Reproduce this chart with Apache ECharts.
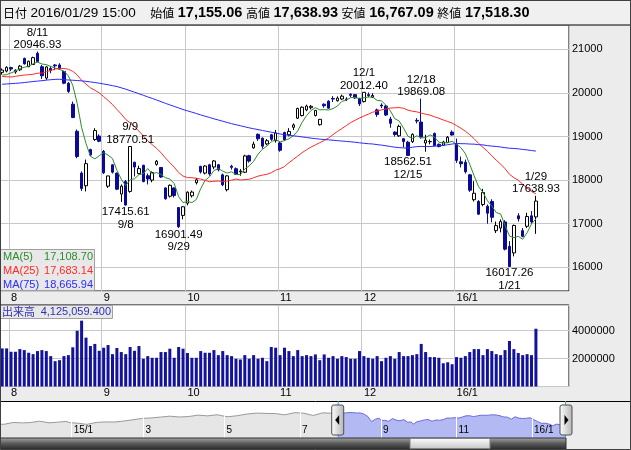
<!DOCTYPE html>
<html><head><meta charset="utf-8">
<script src="https://cdn.jsdelivr.net/npm/echarts@6/dist/echarts.min.js"></script>
<style>html,body{margin:0;padding:0;background:#ececec}#c{width:631px;height:450px}</style>
</head><body><div id="c"></div>
<script>
const dates = [
'2015/07/30','2015/07/31',
'2015/08/03','2015/08/04','2015/08/05','2015/08/06','2015/08/07','2015/08/10','2015/08/11','2015/08/12','2015/08/13','2015/08/14','2015/08/17','2015/08/18','2015/08/19','2015/08/20','2015/08/21','2015/08/24','2015/08/25','2015/08/26','2015/08/27','2015/08/28','2015/08/31',
'2015/09/01','2015/09/02','2015/09/03','2015/09/04','2015/09/07','2015/09/08','2015/09/09','2015/09/10','2015/09/11','2015/09/14','2015/09/15','2015/09/16','2015/09/17','2015/09/18','2015/09/24','2015/09/25','2015/09/28','2015/09/29','2015/09/30',
'2015/10/01','2015/10/02','2015/10/05','2015/10/06','2015/10/07','2015/10/08','2015/10/09','2015/10/13','2015/10/14','2015/10/15','2015/10/16','2015/10/19','2015/10/20','2015/10/21','2015/10/22','2015/10/23','2015/10/26','2015/10/27','2015/10/28','2015/10/29','2015/10/30',
'2015/11/02','2015/11/04','2015/11/05','2015/11/06','2015/11/09','2015/11/10','2015/11/11','2015/11/12','2015/11/13','2015/11/16','2015/11/17','2015/11/18','2015/11/19','2015/11/20','2015/11/24','2015/11/25','2015/11/26','2015/11/27','2015/11/30',
'2015/12/01','2015/12/02','2015/12/03','2015/12/04','2015/12/07','2015/12/08','2015/12/09','2015/12/10','2015/12/11','2015/12/14','2015/12/15','2015/12/16','2015/12/17','2015/12/18','2015/12/21','2015/12/22','2015/12/24','2015/12/25','2015/12/28','2015/12/29','2015/12/30',
'2016/01/04','2016/01/05','2016/01/06','2016/01/07','2016/01/08','2016/01/12','2016/01/13','2016/01/14','2016/01/15','2016/01/18','2016/01/19','2016/01/20','2016/01/21','2016/01/22','2016/01/25','2016/01/26','2016/01/27','2016/01/28','2016/01/29'];

const opens = [20470,20500,
20580,20480,20530,20790,20600,20650,20908,20600,20340,20560,20640,20640,20490,20220,19740,19120,18160,17870,18700,18930,19010,
18660,17860,18350,18160,17680,17970,17740,18410,18150,18340,18100,18000,18360,18290,17820,17630,17820,17370,17190,
17470,17640,17940,18313,18160,18350,18300,18350,18120,17780,18320,18260,18190,18180,18560,18740,19050,18960,18830,19040,18900,
18850,19090,19038,19210,19420,19480,19610,19660,19480,19270,19740,19810,19870,19820,19860,19860,19970,19960,19870,
19800,19960,19900,19610,19720,19700,19400,19100,19015,18950,18870,18880,19370,19330,18850,18880,19070,18820,18800,18860,19100,
18818,18420,18410,18120,17550,17511,17440,17400,17510,16840,16900,17040,16480,16330,17180,16840,16940,17180,17155.06];

const closes = [20522.83,20585.24,
20548.11,20520.36,20614.06,20664.44,20724.56,20808.69,20720.75,20392.77,20595.55,20519.45,20620.26,20554.47,20222.63,20033.52,19435.83,18540.68,17806.70,18376.83,18574.44,19136.32,18890.48,
18165.69,18095.40,18182.39,17792.16,17860.47,17427.08,18770.51,18299.62,18264.22,17965.70,18026.48,18171.60,18432.27,18070.21,17571.83,17880.51,17645.11,16930.84,17388.15,
17722.42,17725.13,18005.49,18186.10,18322.98,18141.17,18438.67,18234.74,17891.00,18096.90,18291.80,18131.23,18207.15,18554.28,18435.87,18825.30,18947.12,18777.04,18903.02,18935.71,19083.10,
18683.24,18926.91,19116.41,19265.60,19642.74,19671.26,19697.77,19691.39,19596.91,19393.69,19705.00,19649.98,19859.81,19879.81,19924.89,19847.58,19944.41,19883.94,19747.47,
20012.40,19938.13,19939.90,19504.48,19698.15,19492.60,19301.07,19046.55,19230.48,18883.42,18565.90,19049.91,19353.56,18986.80,18916.02,18886.70,18789.69,18769.06,18873.35,18982.23,19033.71,
18450.98,18374.00,18191.32,17767.34,17697.96,17218.96,17715.63,17240.95,17147.11,16955.57,17048.37,16416.19,16017.26,16958.53,17110.91,16708.90,17163.92,17041.45,17518.30];

const lows = [20420,20470,
20500,20440,20500,20650,20590,20640,20700,20320,20300,20450,20520,20530,20200,20000,19420,18500,17750,17740,18550,18900,18870,
18140,17820,18150,17770,17500,17415.61,17710,18084,18130,17950,17900,17950,18330,18050,17550,17600,17600,16901.49,17100,
17420,17600,17900,18150,18130,18100,18250,18200,17860,17740,18240,18120,18100,18160,18400,18720,18900,18720,18800,18900,18860,
18650,18900,19000,19150,19400,19460,19580,19620,19460,19250,19660,19640,19790,19800,19840,19810,19900,19860,19700,
19780,19900,19880,19450,19650,19470,19200,19000,18990,18750,18562.51,18850,19300,18950,18650,18820,18780,18750,18780,18850,19020,
18394,18290,18150,17730,17509,17200,17400,17000,17030,16786,16800,16387,16017.26,16250,17050,16690,16900,17000,16767.09];

const highs = [20560,20610,
20600,20540,20640,20810,20740,20830,20946.93,20640,20620,20610,20660,20680,20500,20250,19800,19160,18200,18470,18720,19190,19050,
18690,18100,18360,18170,17900,18000,18770.51,18420,18330,18350,18150,18200,18460,18300,17830,17900,17830,17380,17400,
17740,17760,18050,18330,18340,18370,18460,18370,18150,18110,18350,18290,18250,18580,18580,18880,19070,18980,18940,19060,19150,
18880,19110,19190,19300,19660,19690,19730,19720,19610,19400,19760,19830,19925,19920,19960,19900,19990,19970,19890,
20012.40,20010,19990,19640,19760,19720,19450,19120,19270,18960,18900,19070,19420,19869.08,19040,18930,19090,18840,18900,19010,19140,
18951,18540,18470,18140,17975,17540,17800,17440,17560,17050,17100,17080,16600,16980,17240,16900,17250,17290,17638.93];

const volumes = [2720000,2720000,
2480000,2480000,2670000,2600000,2410000,2310000,2530000,2600000,2530000,2170000,1810000,1880000,2170000,2240000,2800000,3980000,4700000,3490000,2890000,3040000,2550000,
2770000,2960000,2310000,2750000,2460000,2310000,2820000,2550000,2890000,1980000,2170000,2050000,2050000,2460000,2460000,2700000,2050000,2820000,2700000,
2390000,2050000,2050000,2530000,2410000,2410000,2600000,2240000,2530000,2240000,2170000,1980000,1930000,2240000,1980000,2240000,1980000,2050000,1810000,2820000,2770000,
2240000,2770000,2530000,2170000,2600000,2170000,2240000,2170000,2290000,1880000,2290000,2050000,2170000,1980000,2170000,2100000,1980000,1980000,2530000,
2170000,2050000,1980000,2170000,1810000,2050000,2170000,1980000,2460000,2170000,2170000,2240000,2310000,3040000,2460000,2100000,2100000,2050000,1660000,1730000,1590000,
2100000,2050000,2170000,2460000,2670000,2670000,2240000,2670000,2530000,2310000,2240000,2600000,3250000,2670000,2390000,2240000,2310000,2240000,4125059.4];

const ma5 = [20410,20418,20458,20496,20558,20586,20614,20666,20707,20662,
20649,20608,20570,20536,20502,20390,20173,19758,19208,18839,
18547,18487,18557,18629,18572,18494,18225,18019,17871,18006,
18030,18124,18146,18265,18146,18172,18133,18054,18025,17920,
17620,17483,17513,17482,17554,17805,17992,18076,18219,18265,
18206,18161,18191,18129,18124,18256,18324,18431,18594,18708,
18778,18878,18929,18876,18906,18949,19015,19127,19325,19479,
19594,19660,19610,19617,19607,19641,19698,19804,19833,19891,
19896,19870,19887,19905,19904,19828,19818,19715,19587,19409,
19354,19191,19005,18955,19017,18968,18975,19039,18987,18870,
18847,18860,18890,18822,18743,18606,18363,18096,17850,17718,
17528,17404,17256,17222,16962,16717,16679,16710,16642,16792,
16997,17108.70];

const ma25 = [20377,20370,20364,20380,20395,20409,20417,20427,20452,20452,
20487,20513,20547,20565,20559,20542,20495,20411,20289,20201,
20116,20060,20002,19915,19827,19733,19621,19514,19390,19316,
19222,19123,19010,18902,18813,18727,18629,18507,18400,18297,
18173,18091,18058,18055,18040,18024,17992,17962,17973,17978,
17967,17979,17996,18024,18002,18012,18019,18053,18090,18114,
18133,18168,18228,18260,18311,18399,18474,18551,18629,18696,
18756,18807,18858,18908,18965,19043,19115,19180,19249,19318,
19371,19424,19471,19511,19557,19581,19612,19628,19653,19658,
19662,19647,19604,19579,19565,19537,19510,19490,19453,19418,
19379,19343,19307,19251,19188,19121,19041,18949,18840,18751,
18661,18559,18457,18367,18262,18133,18056,17998,17904,17817,
17739,17683.14];

const ma75 = [20198,20205,20212,20219,20226,20237,20248,20260,20270,20280,
20292,20302,20310,20312,20302,20296,20290,20283,20276,20265,
20252,20238,20222,20205,20186,20166,20145,20116,20086,20050,
20016,19980,19945,19908,19873,19836,19800,19760,19725,19690,
19655,19618,19588,19558,19527,19495,19465,19437,19405,19378,
19350,19322,19294,19270,19246,19222,19198,19178,19158,19138,
19118,19098,19078,19058,19040,19028,19016,19004,18990,18976,
18962,18950,18940,18930,18923,18914,18904,18896,18887,18878,
18868,18855,18844,18834,18828,18813,18802,18787,18770,18755,
18744,18737,18737,18753,18767,18772,18769,18769,18777,18786,
18796,18811,18827,18841,18835,18834,18827,18824,18813,18807,
18791,18779,18771,18759,18743,18731,18725,18717,18703,18692,
18677,18665.94];

const monthStarts = ['2015/08/03','2015/09/01','2015/10/01','2015/11/02','2015/12/01','2016/01/04'];
const monthLabels = ['8','9','10','11','12','16/1'];
const peakDates = ['2015/08/11','2015/09/09','2015/12/01','2015/12/18','2016/01/29'];
const troughDates = ['2015/09/08','2015/09/29','2015/12/15','2016/01/21'];

// navigator: [trading-day index since 2014/11/05, close]
const navEarly = [[0,16937],[2,16880],[7,17490],[12,17357],[16,17460],[21,17920],[26,17371],[31,17621],[35,17818],[37,17451],
[42,17198],[46,16864],[51,17511],[56,17674],[61,17648],[65,17913],[70,18332],[75,18798],[80,18971],[85,19254],[90,19560],
[95,19286],[100,19435],[105,19908],[110,19653],[115,20020],[119,19532],[121,19380],[126,19733],[131,20264],[136,20563],
[141,20461],[146,20407],[151,19990],[156,20706],[161,20540],[166,19780],[171,20651],[175,20545],[178,20303]];
const navWindowStart = 179;
const navSpan = 300;
const navTicks = [38,76,119,159,202,242,282];
const navTickLabels = ['15/1','3','5','7','9','11','16/1'];

const FONT = "'Liberation Sans','Noto Sans CJK JP',sans-serif";
const JFONT = "'Noto Sans CJK JP','Liberation Sans',sans-serif";
const fmt2 = v => v.toLocaleString('en-US',{minimumFractionDigits:2,maximumFractionDigits:2});
const fmt3 = v => v.toLocaleString('en-US',{minimumFractionDigits:3,maximumFractionDigits:3});
const md = d => { const p = d.split('/'); return parseInt(p[1],10)+'/'+parseInt(p[2],10); };

const candleData = dates.map((d,i)=>[opens[i],closes[i],lows[i],highs[i]]);
const last = dates.length-1;

const markData = [];
peakDates.forEach(d=>{ const i=dates.indexOf(d); markData.push({coord:[d,highs[i]],label:{position:'top',distance:0,formatter:md(d)+'\n'+highs[i].toFixed(2)}}); });
troughDates.forEach(d=>{ const i=dates.indexOf(d); markData.push({coord:[d,lows[i]],label:{position:'bottom',distance:0,formatter:lows[i].toFixed(2)+'\n'+md(d)}}); });

const isMonthStart = (idx, val) => monthStarts.indexOf(val) >= 0;
function catAxis(grid){
  return {type:'category',gridIndex:grid,data:dates,max:128,boundaryGap:true,
    axisLine:{show:false},axisTick:{show:false},
    axisLabel:{interval:isMonthStart,formatter:v=>monthLabels[monthStarts.indexOf(v)],align:'left',margin:1,fontSize:11,color:'#000',fontFamily:FONT},
    splitLine:{show:true,interval:isMonthStart,lineStyle:{color:'#c8c8c8',width:1}}};
}

const option = {
  animation:false,
  backgroundColor:'#ececec',
  grid:[
    {left:0,top:25,width:569,height:266,show:true,backgroundColor:'#fff',borderColor:'#000',borderWidth:1},
    {left:0,top:305,width:569,height:81.5,show:true,backgroundColor:'#fff',borderColor:'#000',borderWidth:1},
    {left:0,top:401,width:566,height:37,show:true,backgroundColor:'#fff',borderWidth:0}
  ],
  xAxis:[catAxis(0),catAxis(1),
    {type:'value',gridIndex:2,min:0,max:navSpan,z:5,axisLine:{show:false},splitLine:{show:false},
     axisTick:{show:true,inside:true,length:37,customValues:navTicks,lineStyle:{color:'#fff',width:1}},
     axisLabel:{show:true,inside:true,customValues:navTicks,formatter:v=>navTickLabels[navTicks.indexOf(v)],align:'left',margin:3,fontSize:10,color:'#000',padding:[0,0,0,2],fontFamily:FONT}}
  ],
  yAxis:[
    {type:'value',gridIndex:0,position:'right',min:15456,max:21557,minInterval:1000,maxInterval:1000,
     axisLine:{show:false},axisTick:{show:false},
     axisLabel:{margin:3,fontSize:11,color:'#000',fontFamily:FONT,showMinLabel:false,showMaxLabel:false,formatter:v=>String(v)},
     splitLine:{lineStyle:{color:'#c8c8c8'}}},
    {type:'value',gridIndex:1,position:'right',min:0,max:5820000,interval:2000000,
     axisLine:{show:false},axisTick:{show:false},
     axisLabel:{margin:3,fontSize:11,color:'#000',fontFamily:FONT,showMinLabel:false,showMaxLabel:false,formatter:v=>String(v)},
     splitLine:{lineStyle:{color:'#c8c8c8'}}},
    {type:'value',gridIndex:2,min:12400,max:24530,show:false}
  ],
  series:[
    {type:'candlestick',xAxisIndex:0,yAxisIndex:0,data:candleData,barWidth:3,z:2,
     itemStyle:{color:'#ffffff',color0:'#0a0a96',borderColor:'#000000',borderColor0:'#0a0a96',borderWidth:1},
     markPoint:{symbol:'rect',symbolSize:1,itemStyle:{color:'rgba(0,0,0,0)'},
       label:{color:'#000',fontSize:11.5,lineHeight:12.5,fontFamily:FONT},data:markData}},
    {type:'line',xAxisIndex:0,yAxisIndex:0,data:ma5,symbol:'none',z:3,lineStyle:{width:1,color:'#2e8b2e'}},
    {type:'line',xAxisIndex:0,yAxisIndex:0,data:ma25,symbol:'none',z:3,lineStyle:{width:1,color:'#ff2a2a'}},
    {type:'line',xAxisIndex:0,yAxisIndex:0,data:ma75,symbol:'none',z:3,lineStyle:{width:1,color:'#2a2aff'}},
    {type:'bar',xAxisIndex:1,yAxisIndex:1,data:volumes,barWidth:3,itemStyle:{color:'#12129c'}},
    {type:'line',xAxisIndex:2,yAxisIndex:2,data:navEarly.concat([[navWindowStart,closes[0]]]),symbol:'none',
     lineStyle:{width:1,color:'#999999'},areaStyle:{color:'#e6e6e6',opacity:1}},
    {type:'line',xAxisIndex:2,yAxisIndex:2,data:closes.map((c,i)=>[navWindowStart+i,c]),symbol:'none',
     lineStyle:{width:1,color:'#6c6cd8'},areaStyle:{color:'#b3b9f2',opacity:1}}
  ]
};

const chart = echarts.init(document.getElementById('c'));
chart.setOption(option);

const xL = chart.convertToPixel({xAxisIndex:2}, navWindowStart);
const xR = chart.convertToPixel({xAxisIndex:2}, navWindowStart + last);
const navTop = 401, navBot = 438;

function handle(cx, dir){
  const tri = dir<0 ? [[cx+1.5,415],[cx+1.5,425],[cx-2.5,420]] : [[cx-1.5,415],[cx-1.5,425],[cx+2.5,420]];
  return [
    {type:'rect',z:100,shape:{x:cx-6,y:405,width:12,height:30,r:2},
     style:{fill:new echarts.graphic.LinearGradient(0,0,1,0,[{offset:0,color:'#ffffff'},{offset:1,color:'#b4b4b4'}]),stroke:'#505050',lineWidth:1}},
    {type:'polygon',z:101,shape:{points:tri},style:{fill:'#000'}}
  ];
}

const hdr = '{j|日付} {d|'+dates[last]+' 15:00}    {j|始値} {b|'+fmt2(opens[last])+'} {j|高値} {r|'+fmt2(highs[last])+'} {j|安値} {g|'+fmt2(lows[last])+'} {j|終値} {b|'+fmt2(closes[last])+'}';

const graphics = [
  {type:'rect',z:90,shape:{x:0.5,y:0.5,width:630,height:24.5},style:{fill:'#f0f0f0',stroke:'#000',lineWidth:1}},
  {type:'text',z:91,x:3,y:13,style:{text:hdr,font:'13px '+FONT,verticalAlign:'middle',rich:{
     j:{fontSize:12,color:'#000',fontFamily:JFONT},
     d:{fontSize:13.5,color:'#000',fontFamily:FONT},
     b:{fontSize:14.5,fontWeight:'bold',color:'#000',fontFamily:FONT},
     r:{fontSize:14.5,fontWeight:'bold',color:'#ff0000',fontFamily:FONT},
     g:{fontSize:14.5,fontWeight:'bold',color:'#008000',fontFamily:FONT}}}},
  // MA legend box
  {type:'rect',z:90,shape:{x:0.5,y:249.5,width:94,height:41},style:{fill:'#e8e8e8',stroke:'#a0a0a0',lineWidth:1}},
  {type:'text',z:91,x:3,y:256.5,style:{text:'MA(5)',fill:'#2e8b2e',font:'11px '+FONT,verticalAlign:'middle'}},
  {type:'text',z:91,x:93,y:256.5,style:{text:fmt2(ma5[last]),fill:'#2e8b2e',font:'11px '+FONT,align:'right',verticalAlign:'middle'}},
  {type:'text',z:91,x:3,y:270.5,style:{text:'MA(25)',fill:'#ff2a2a',font:'11px '+FONT,verticalAlign:'middle'}},
  {type:'text',z:91,x:93,y:270.5,style:{text:fmt2(ma25[last]),fill:'#ff2a2a',font:'11px '+FONT,align:'right',verticalAlign:'middle'}},
  {type:'text',z:91,x:3,y:284.5,style:{text:'MA(75)',fill:'#2a2aff',font:'11px '+FONT,verticalAlign:'middle'}},
  {type:'text',z:91,x:93,y:284.5,style:{text:fmt2(ma75[last]),fill:'#2a2aff',font:'11px '+FONT,align:'right',verticalAlign:'middle'}},
  // volume label box
  {type:'rect',z:90,shape:{x:0.5,y:305.5,width:112,height:13},style:{fill:'#e8e8e8',stroke:'#a0a0a0',lineWidth:1}},
  {type:'text',z:91,x:2,y:312,style:{text:'出来高',fill:'#3030b8',font:'11px '+JFONT,verticalAlign:'middle'}},
  {type:'text',z:91,x:111,y:312,style:{text:fmt3(volumes[last]),fill:'#3030b8',font:'11px '+FONT,align:'right',verticalAlign:'middle'}},
  // navigator frame & selection edges
  {type:'line',z:95,shape:{x1:0,y1:navTop+0.5,x2:631,y2:navTop+0.5},style:{stroke:'#000',lineWidth:1}},
  {type:'line',z:95,shape:{x1:xL+0.5,y1:navTop,x2:xL+0.5,y2:navBot},style:{stroke:'#3b9bd6',lineWidth:1}},
  {type:'line',z:95,shape:{x1:xR-0.5,y1:navTop,x2:xR-0.5,y2:navBot},style:{stroke:'#3b9bd6',lineWidth:1}},
  // scrollbar
  {type:'rect',z:90,shape:{x:0,y:navBot,width:xR,height:11},
   style:{fill:new echarts.graphic.LinearGradient(0,0,0,1,[{offset:0,color:'#a8a8a8'},{offset:0.5,color:'#5a5a5a'},{offset:1,color:'#2a2a2a'}]),stroke:'#303030',lineWidth:1}},
  {type:'rect',z:91,shape:{x:410,y:navBot+0.5,width:80,height:10},
   style:{fill:new echarts.graphic.LinearGradient(0,0,0,1,[{offset:0,color:'#ffffff'},{offset:1,color:'#c4c4c4'}]),stroke:'#808080',lineWidth:1}}
].concat(handle(xL,-1), handle(xR,1), [
  {type:'rect',z:110,shape:{x:0.5,y:0.5,width:630,height:449},style:{fill:'none',stroke:'#404040',lineWidth:1}}
]);

chart.setOption({graphic:graphics});
</script></body></html>
